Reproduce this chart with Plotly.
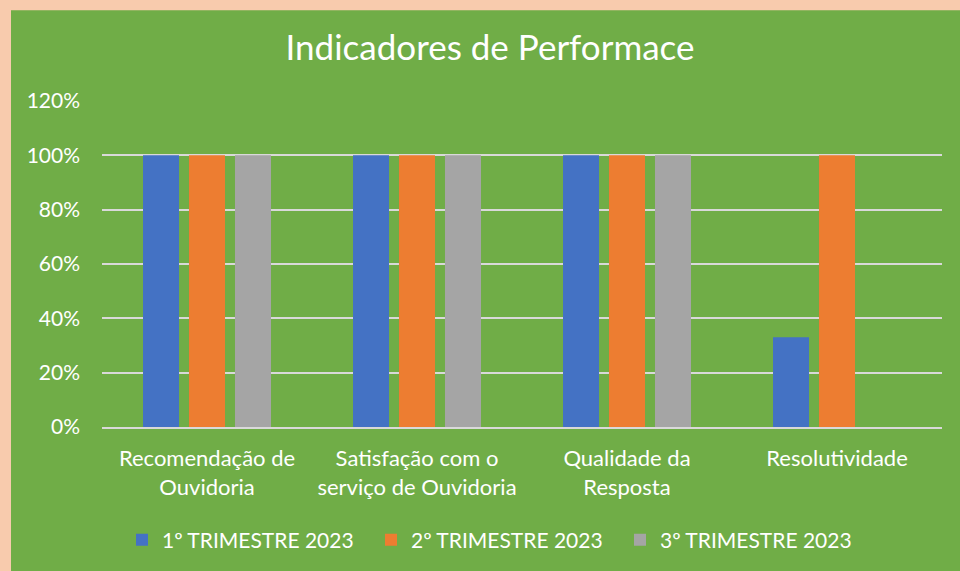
import plotly.graph_objects as go

categories = ["Recomendação de<br>Ouvidoria", "Satisfação com o<br>serviço de Ouvidoria",
              "Qualidade da<br>Resposta", "Resolutividade"]
series_names = ["1º TRIMESTRE 2023", "2º TRIMESTRE 2023", "3º TRIMESTRE 2023"]
t1 = [1.0, 1.0, 1.0, 0.33]
t2 = [1.0, 1.0, 1.0, 1.0]
t3 = [1.0, 1.0, 1.0, None]
colors = ["#4472C4", "#ED7D31", "#A5A5A5"]

W, H = 960, 571
L, R, T, B = 102, 18, 101, 143
pw, ph = W - L - R, H - T - B

def px_x(p):
    return (p - L) / pw

def px_y(p):
    return (H - B - p) / ph

font_family = "Lato, 'Open Sans', sans-serif"

fig = go.Figure()
for name, vals, c in zip(series_names, [t1, t2, t3], colors):
    fig.add_trace(go.Bar(x=categories, y=vals, name=name, marker=dict(color=c, line=dict(width=0))))

fig.add_shape(type="rect", xref="paper", yref="paper",
              x0=px_x(11), x1=px_x(W + 5), y0=px_y(H + 5), y1=px_y(10),
              fillcolor="#70AD47", line=dict(width=0), layer="below")

fig.update_layout(
    width=W, height=H,
    margin=dict(l=L, r=R, t=T, b=B),
    paper_bgcolor="#F8CBAD",
    plot_bgcolor="rgba(0,0,0,0)",
    barmode="group", bargap=0.343, bargroupgap=0.217,
    title=dict(text="Indicadores de Performace", x=490 / W, xanchor="center",
               y=1 - 48 / H, yanchor="middle",
               font=dict(family=font_family, size=35, color="white")),
    font=dict(family=font_family, color="white"),
    showlegend=True,
    legend=dict(orientation="h", x=px_x(122), xanchor="left", y=px_y(540), yanchor="middle",
                font=dict(size=21, color="white"), bgcolor="rgba(0,0,0,0)",
                itemwidth=30, entrywidth=204, tracegroupgap=0),
    xaxis=dict(showgrid=False, showline=True, linecolor="#D9D9D9", linewidth=1.5,
               tickfont=dict(size=22, color="white"), ticks="", zeroline=False,
               ticklabelstandoff=11),
    yaxis=dict(range=[0, 1.2], dtick=0.2, tickformat=".0%", showgrid=True,
               gridcolor="#D9D9D9", gridwidth=1.5, zeroline=False, showline=False,
               tickfont=dict(size=21, color="white"), ticklabelstandoff=21),
)

fig.write_html("out.html", config={"displayModeBar": False},
               post_script="document.body.style.margin='0';")
